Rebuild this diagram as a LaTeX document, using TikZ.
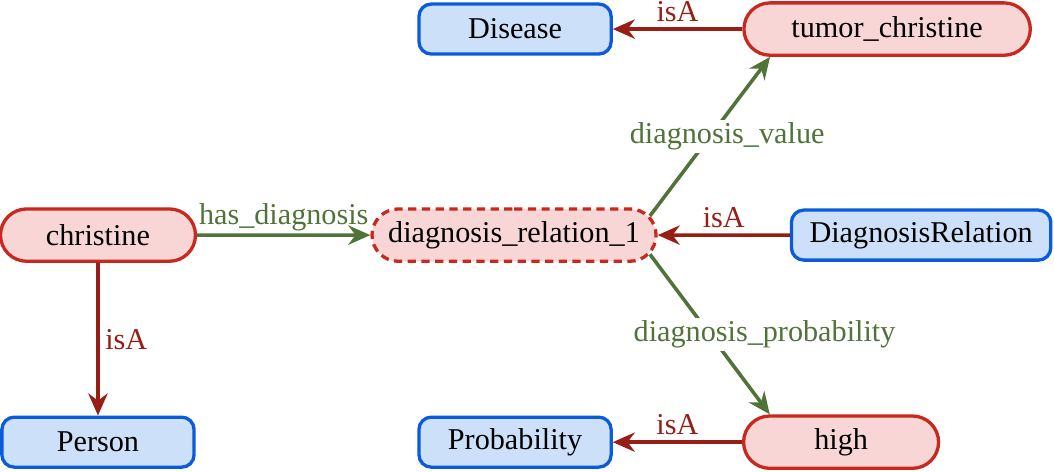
\documentclass[tikz,border=0pt]{standalone}
\usepackage{fontspec}
\setmainfont{Liberation Serif}
\usetikzlibrary{shapes.misc,arrows.meta,calc}
\definecolor{instline}{RGB}{200,40,30}
\definecolor{instfill}{RGB}{248,214,213}
\definecolor{classline}{RGB}{10,90,220}
\definecolor{classfill}{RGB}{204,224,250}
\definecolor{relgreen}{RGB}{80,115,57}
\definecolor{isared}{RGB}{150,30,20}

\begin{document}
\begin{tikzpicture}[
		font=\fontsize{11}{13}\selectfont,
		instance/.style={shape=rounded rectangle, draw=instline, fill=instfill, line width=1.2pt, minimum width=2.73cm, minimum height=0.67cm},
		class/.style={shape=rectangle, rounded corners=4.5pt, draw=classline, fill=classfill, line width=1.2pt, minimum width=2.46cm, minimum height=0.64cm},
		relarrow/.style={draw=relgreen, line width=1.3pt, -{Stealth[length=8pt, width=7pt]}},
		isaarrow/.style={draw=isared, line width=1.3pt, -{Stealth[length=8pt, width=7pt]}},
		rellabel/.style={text=relgreen, fill=white, inner sep=1pt},
		isalabel/.style={text=isared, inner sep=2pt}
	]
				\useasboundingbox (0, 0) rectangle (13.49, 6.03);
				% Paths, nodes and wires:
				\node[instance] (christine) at (1.254, 3.021){christine};
				\node[instance, dashed, dash pattern=on 3pt off 2pt, minimum width=3.87cm] (relation) at (6.579, 3.021){diagnosis\_relation\_1};
				\node[class, minimum width=3.32cm] (diagrel) at (11.789, 3.021){DiagnosisRelation};
				\node[class] (disease) at (6.592, 5.658){Disease};
				\node[instance, minimum width=3.9cm] (tumor) at (11.354, 5.658){tumor\_christine};
				\node[class] (person) at (1.254, 0.371){Person};
				\node[class] (probability) at (6.592, 0.371){Probability};
				\node[instance] (high) at (10.765, 0.371){high};
				\coordinate (relup) at ($(relation.east)+(-0.1, 0.245)$);
				\coordinate (reldown) at ($(relation.east)+(-0.1, -0.245)$);
				\draw[relarrow] (christine) -- node[rellabel, above, fill=none]{has\_diagnosis} (relation);
				\draw[relarrow] (relup) -- node[rellabel, xshift=0.22cm]{diagnosis\_value} (tumor.south west);
				\draw[relarrow] (reldown) -- node[rellabel, xshift=0.7cm]{diagnosis\_probability} (high.north west);
				\draw[isaarrow] (christine) -- node[isalabel, right]{isA} (person);
				\draw[isaarrow] (tumor) -- node[isalabel, above]{isA} (disease);
				\draw[isaarrow] (diagrel) -- node[isalabel, above]{isA} (relation);
				\draw[isaarrow] (high) -- node[isalabel, above]{isA} (probability);
			\end{tikzpicture}
\end{document}
